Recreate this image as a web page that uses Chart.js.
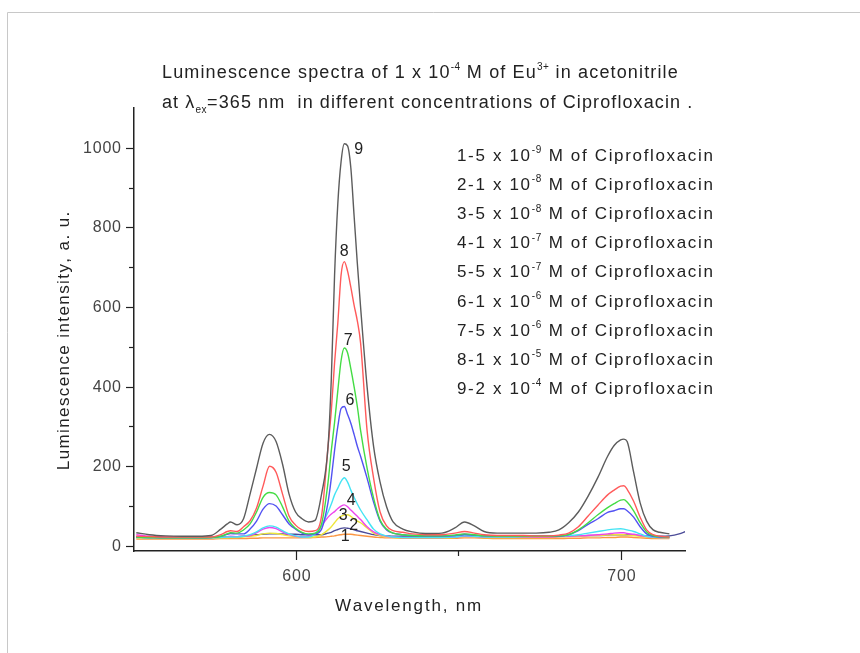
<!DOCTYPE html>
<html><head><meta charset="utf-8">
<script src="https://cdn.jsdelivr.net/npm/chart.js@4.4.0/dist/chart.umd.min.js"></script>
<style>html,body{margin:0;padding:0;background:#fff;}#wrap{position:relative;width:860px;height:653px;}</style>
</head><body><div id="wrap"><canvas id="c" width="860" height="653"></canvas></div>
<script>
// ---------- DATA ----------
const wavelengths = [551,555,560,565,570,574,577,579,580,582, 584,586,588,590,592,594,596,598,600,602, 604,606,608,610,611,612,613,614,615,616, 617,618,619,620,622,624,626,628,630,633, 636,640,645,649,652,655,658,662,666,670, 674,678,681,684,687,690,693,696,698,700, 701,702,704,706,708,710,712,715,718,720];
const s1 = [17,17,17,17,17,17,18,18,18,18, 18,19,19,20,20,20,20,20,20,20, 20,21,22,23,24,25,27,28,29,29, 29,28,27,26,24,22,21,20,20,19, 19,19,19,19,20,20,19,18,18,18, 18,18,18,19,19,20,20,21,21,22, 22,22,21,20,19,18,18,18,null,null];
const s2 = [22,21,21,21,21,21,22,23,23,23, 24,26,28,29,30,30,30,29,29,28, 28,28,28,32,34,38,41,44,45,44, 43,40,38,36,32,28,26,25,24,24, 24,23,23,24,26,25,24,24,24,24, 24,24,24,25,25,26,26,27,28,28, 28,28,27,26,25,24,24,25,30,36];
const s3 = [20,20,19,19,19,19,20,20,21,21, 22,24,26,30,32,31,28,25,23,22, 22,22,28,40,48,58,68,74,77,78, 74,68,62,58,45,32,26,23,21,20, 20,20,20,21,23,22,21,21,21,21, 21,21,22,23,24,25,26,27,28,28, 28,27,26,24,22,21,20,20,null,null];
const s4 = [28,24,22,22,21,21,22,23,24,23, 24,26,33,42,46,43,35,28,24,22, 24,30,50,72,80,86,94,100,103,98, 90,82,74,66,48,35,28,24,22,21, 21,21,21,22,24,23,22,22,22,22, 22,22,23,24,25,26,28,30,32,33, 33,31,29,26,23,22,21,21,null,null];
const s5 = [21,20,20,20,20,20,21,22,22,22, 24,28,35,45,50,47,38,30,25,22, 22,30,52,85,105,128,145,162,171,160, 140,122,105,90,65,42,30,25,22,21, 21,21,21,22,25,24,22,22,22,23, 24,24,25,26,28,32,36,40,42,43, 42,40,36,30,24,22,21,21,null,null];
const s6 = [22,21,20,20,20,21,24,29,31,30, 30,42,62,92,106,100,78,55,42,32, 28,30,42,110,170,240,300,345,350,330, 308,280,250,225,170,110,62,40,32,28, 26,25,25,26,29,27,25,24,24,24, 24,24,24,28,38,54,68,84,88,93, 93,88,72,48,30,24,22,22,null,null];
const s7 = [22,21,20,20,20,21,24,30,33,32, 40,55,85,122,134,128,98,62,44,34, 30,32,55,160,240,310,390,465,497,485, 445,400,350,290,195,120,65,42,32,28, 26,25,25,27,30,28,25,24,24,24, 24,24,25,28,40,58,78,96,106,115, 116,110,88,58,35,26,23,22,null,null];
const s8 = [24,23,22,22,22,22,28,36,38,36, 48,63,95,150,200,185,130,75,52,40, 36,38,75,250,340,460,560,680,714,690, 650,605,565,510,290,170,85,50,38,34, 30,28,28,32,36,32,28,26,26,26, 25,25,27,32,48,75,102,128,140,150, 151,142,112,72,40,28,24,22,null,null];
const s9 = [33,28,25,24,24,26,42,55,60,53, 68,130,195,258,280,262,205,130,85,68, 60,64,130,250,420,680,860,965,1010,1005, 950,830,710,600,400,250,160,98,60,42, 35,31,32,45,60,50,36,32,32,32, 32,34,40,58,85,125,172,225,252,266, 268,262,185,108,62,40,34,30,null,null];
const seriesValues = [s1,s2,s3,s4,s5,s6,s7,s8,s9];
const seriesNames = ['1','2','3','4','5','6','7','8','9'];
const seriesColors = ['#fb9642','#4c4c98','#eee63a','#ee44ee','#44e4f4','#5252f2','#44dc44','#ff5a5a','#5c5c5c'];
const legendMantissa = ['5','1','5','1','5','1','5','1','2'];
const legendExponent = ['-9','-8','-8','-7','-7','-6','-6','-5','-4'];
const xTickValues = [600,650,700];
const xTickLabels = ['600','','700'];
const yTickValues = [0,100,200,300,400,500,600,700,800,900,1000];
const yTickLabels = ['0','','200','','400','','600','','800','','1000'];

// ---------- STYLE ----------
const FONT = '"Liberation Sans", Arial, sans-serif';
const TXT = '#222';
const labelOffsets = [[1,2.5],[9.4,-2],[-1,0],[6.8,-4],[2,-11.5],[5.6,-6],[3.8,-7.5],[0,-10],[14.4,6]];

function spacedWidth(ctx, t, ls) {
  let w = 0;
  for (const ch of t) w += ctx.measureText(ch).width + ls;
  return w;
}
function drawSpaced(ctx, t, x, y, ls) {
  let cx = x;
  for (const ch of t) { ctx.fillText(ch, cx, y); cx += ctx.measureText(ch).width + ls; }
  return cx;
}
function drawRich(ctx, segs, x, y, size, color, ls) {
  let cx = x;
  ctx.fillStyle = color; ctx.textAlign = 'left'; ctx.textBaseline = 'alphabetic';
  for (const [t, k] of segs) {
    const fs = k ? Math.round(size * 0.58) : size;
    ctx.font = fs + 'px ' + FONT;
    const dy = k === 1 ? -size * 0.45 : (k === 2 ? size * 0.28 : 0);
    cx = drawSpaced(ctx, t, cx, y + dy, k ? ls * 0.5 : ls);
  }
  return cx;
}
function drawCentered(ctx, t, x, y, ls) {
  const w = spacedWidth(ctx, t, ls) - ls;
  ctx.textAlign = 'left';
  drawSpaced(ctx, t, x - w / 2, y, ls);
}

const decor = {
  id: 'decor',
  beforeDraw(chart) {
    const ctx = chart.ctx;
    ctx.save();
    ctx.fillStyle = '#fff'; ctx.fillRect(0, 0, chart.width, chart.height);
    ctx.strokeStyle = '#c8c8c8'; ctx.lineWidth = 1;
    ctx.beginPath(); ctx.moveTo(7.5, 653); ctx.lineTo(7.5, 12.5); ctx.lineTo(860, 12.5); ctx.stroke();
    ctx.restore();
  },
  afterDraw(chart) {
    const ctx = chart.ctx, xs = chart.scales.x, ys = chart.scales.y, ca = chart.chartArea;
    ctx.save();
    // ticks and tick labels
    ctx.strokeStyle = '#222'; ctx.lineWidth = 1.2;
    ctx.fillStyle = '#444'; ctx.font = '16px ' + FONT; ctx.textBaseline = 'middle';
    xTickValues.forEach((v, i) => {
      const px = Math.round(xs.getPixelForValue(v)) + 0.5;
      const len = xTickLabels[i] ? 9 : 5;
      ctx.beginPath(); ctx.moveTo(px, ca.bottom); ctx.lineTo(px, ca.bottom + len); ctx.stroke();
      if (xTickLabels[i]) drawCentered(ctx, xTickLabels[i], px, ca.bottom + 26, 0.8);
    });
    yTickValues.forEach((v, i) => {
      const py = Math.round(ys.getPixelForValue(v)) + 0.5;
      const len = yTickLabels[i] ? 8 : 5;
      ctx.beginPath(); ctx.moveTo(ca.left, py); ctx.lineTo(ca.left - len, py); ctx.stroke();
      if (yTickLabels[i]) {
        const w = spacedWidth(ctx, yTickLabels[i], 0.8) - 0.8;
        ctx.textAlign = 'left';
        drawSpaced(ctx, yTickLabels[i], ca.left - 13 - w, py, 0.8);
      }
    });
    // curve labels
    const i615 = wavelengths.indexOf(615);
    ctx.fillStyle = TXT; ctx.font = '16px ' + FONT; ctx.textAlign = 'center'; ctx.textBaseline = 'middle';
    seriesValues.forEach((s, k) => {
      const px = xs.getPixelForValue(wavelengths[i615]) + labelOffsets[k][0];
      const py = ys.getPixelForValue(s[i615]) + labelOffsets[k][1];
      ctx.fillText(seriesNames[k], px, py);
    });
    // title
    drawRich(ctx, [['Luminescence spectra of 1 x 10', 0], ['-4', 1], [' M of Eu', 0], ['3+', 1], [' in acetonitrile', 0]], 162, 78, 18, TXT, 1.15);
    drawRich(ctx, [['at ', 0], ['\u03BB', 0], ['ex', 2], ['=365 nm  in different concentrations of Ciprofloxacin .', 0]], 162, 108, 18, TXT, 1.1);
    // legend
    legendMantissa.forEach((m, k) => {
      drawRich(ctx, [[seriesNames[k] + '-' + m + ' x 10', 0], [legendExponent[k], 1], [' M of Ciprofloxacin', 0]], 457, 161 + k * 29.1, 17, TXT, 1.66);
    });
    // axis titles
    ctx.fillStyle = TXT; ctx.font = '17px ' + FONT; ctx.textBaseline = 'middle';
    drawCentered(ctx, 'Wavelength, nm', 408, 606, 1.8);
    ctx.translate(64, 341); ctx.rotate(-Math.PI / 2);
    drawCentered(ctx, 'Luminescence intensity, a. u.', 0, 0, 1.4);
    ctx.restore();
  }
};

const datasets = seriesValues.map((s, k) => ({
  label: seriesNames[k],
  data: wavelengths.map((w, i) => ({ x: w, y: s[i] })).filter(p => p.y !== null),
  borderColor: seriesColors[k],
  backgroundColor: seriesColors[k],
  borderWidth: 1.4,
  pointRadius: 0,
  fill: false,
  cubicInterpolationMode: 'monotone',
  order: 10 - k
}));

new Chart(document.getElementById('c'), {
  type: 'line',
  data: { datasets },
  options: {
    responsive: false, animation: false, devicePixelRatio: 1,
    layout: { padding: { left: 0, right: 175, top: 108, bottom: 0 } },
    plugins: { legend: { display: false }, title: { display: false }, tooltip: { enabled: false } },
    scales: {
      x: {
        type: 'linear', min: 550.3, max: 719.8,
        afterFit: s => { s.height = 102; },
        afterBuildTicks: s => { s.ticks = xTickValues.map(v => ({ value: v })); },
        ticks: { display: false },
        grid: { display: true, drawOnChartArea: false, drawTicks: false, color: 'rgba(0,0,0,0)' },
        border: { display: true, color: '#222', width: 1.5 }
      },
      y: {
        type: 'linear', min: -13, max: 1100,
        afterFit: s => { s.width = 134; },
        afterBuildTicks: s => { s.ticks = yTickValues.map(v => ({ value: v })); },
        ticks: { display: false },
        grid: { display: true, drawOnChartArea: false, drawTicks: false, color: 'rgba(0,0,0,0)' },
        border: { display: true, color: '#222', width: 1.5 }
      }
    }
  },
  plugins: [decor]
});
</script></body></html>
